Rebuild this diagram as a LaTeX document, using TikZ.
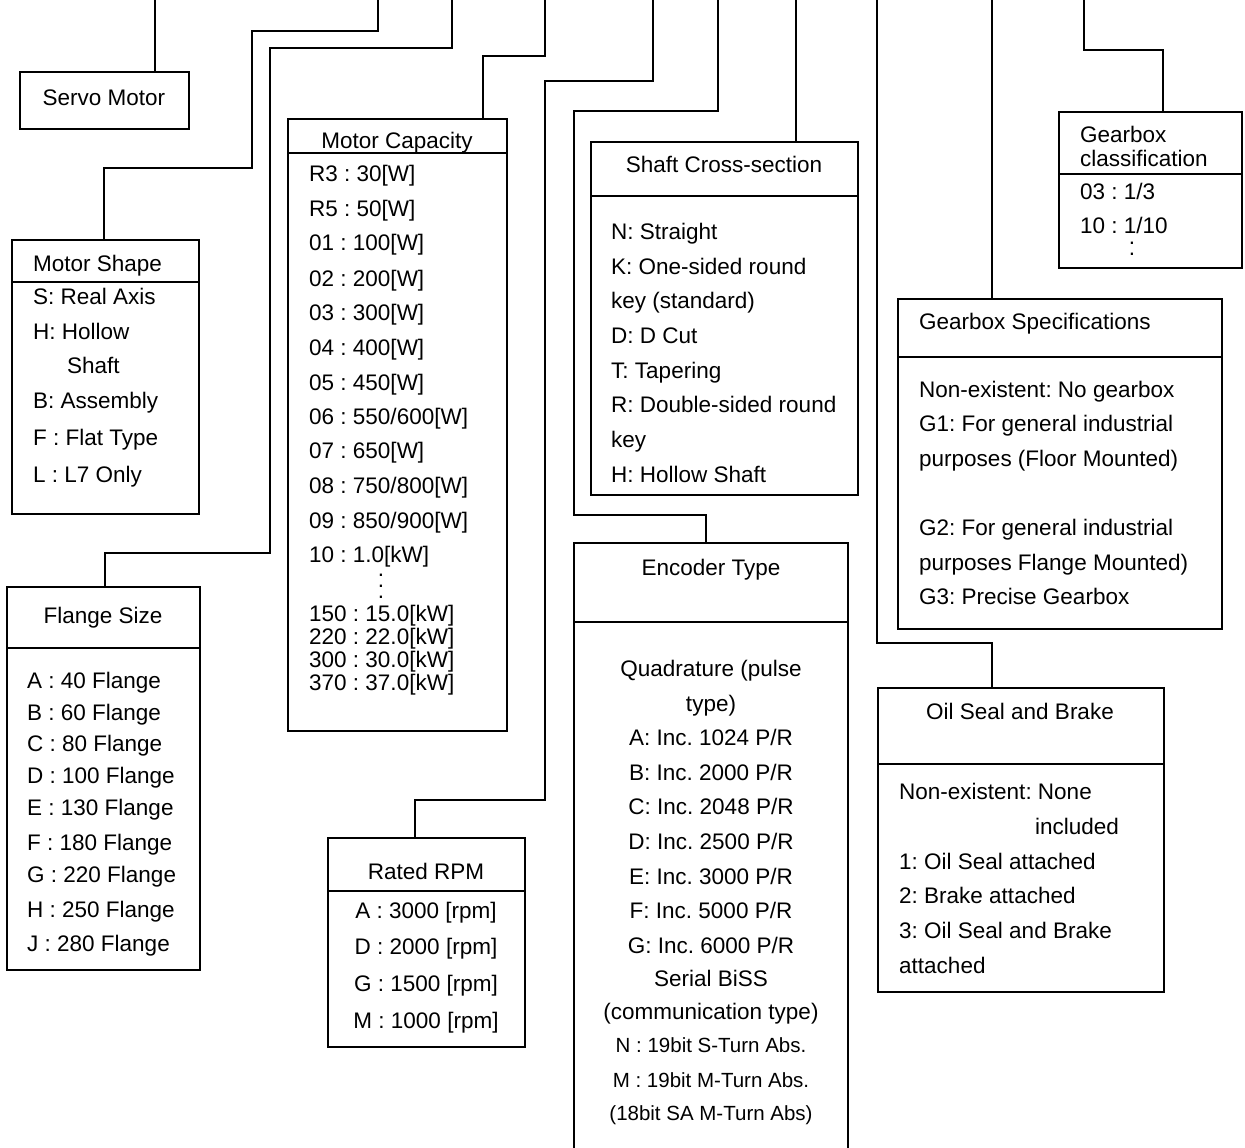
\documentclass[tikz,border=0pt]{standalone}
\usepackage{fontspec}
\setmainfont{Liberation Sans}
\frenchspacing
\begin{document}
\frenchspacing
\begin{tikzpicture}[x=1pt,y=-1pt,
  conn/.style={line width=2.2pt},
  box/.style={draw, line width=1.4pt, anchor=north west, inner sep=0pt, outer sep=0pt},
  openbox/.style={anchor=north west, inner sep=0pt, outer sep=0pt},
  divl/.style={line width=1.4pt},
  txt/.style={anchor=base west, inner sep=0pt, font=\fontsize{22.5}{27}\selectfont},
  ctxt/.style={anchor=base, inner sep=0pt, font=\fontsize{22.5}{27}\selectfont},
  dots/.style={anchor=south, inner sep=0pt, align=center, font=\fontsize{22.5}{11}\selectfont},
  stxt/.style={anchor=base, inner sep=0pt, font=\fontsize{20.5}{25}\selectfont}]
\useasboundingbox (0,0) rectangle (1245,1148);

% ---------- boxes ----------
\node[box, minimum width=169pt, minimum height=57pt] (servo) at (20,72) {};
\node[box, minimum width=187pt, minimum height=274pt] (shape) at (12,240) {};
\node[box, minimum width=193pt, minimum height=383pt] (flange) at (7,587) {};
\node[box, minimum width=219pt, minimum height=612pt] (cap) at (288,119) {};
\node[box, minimum width=197pt, minimum height=209pt] (rpm) at (328,838) {};
\node[box, minimum width=267pt, minimum height=353pt] (shaft) at (591,142) {};
\node[openbox, minimum width=274pt, minimum height=605pt] (enc) at (574,543) {};
\node[box, minimum width=183pt, minimum height=156pt] (gcls) at (1059,112) {};
\node[box, minimum width=324pt, minimum height=330pt] (gspec) at (898,299) {};
\node[box, minimum width=286pt, minimum height=304pt] (oil) at (878,688) {};

\draw[divl] (enc.south west) -- (enc.north west) -- (enc.north east) -- (enc.south east);

% ---------- dividers ----------
\draw[divl] ([yshift=-42pt]shape.north west) -- ([yshift=-42pt]shape.north east);
\draw[divl] ([yshift=-61pt]flange.north west) -- ([yshift=-61pt]flange.north east);
\draw[divl] ([yshift=-34pt]cap.north west) -- ([yshift=-34pt]cap.north east);
\draw[divl] ([yshift=-53pt]rpm.north west) -- ([yshift=-53pt]rpm.north east);
\draw[divl] ([yshift=-54pt]shaft.north west) -- ([yshift=-54pt]shaft.north east);
\draw[divl] ([yshift=-79pt]enc.north west) -- ([yshift=-79pt]enc.north east);
\draw[divl] ([yshift=-62pt]gcls.north west) -- ([yshift=-62pt]gcls.north east);
\draw[divl] ([yshift=-58pt]gspec.north west) -- ([yshift=-58pt]gspec.north east);
\draw[divl] ([yshift=-76pt]oil.north west) -- ([yshift=-76pt]oil.north east);

% ---------- connectors ----------
\coordinate (t1) at (155,0);
\coordinate (t2) at (378,0);
\coordinate (t3) at (452,0);
\coordinate (t4) at (545,0);
\coordinate (t5) at (653,0);
\coordinate (t6) at (718,0);
\coordinate (t7) at (796,0);
\coordinate (t8) at (877,0);
\coordinate (t9) at (992,0);
\coordinate (t10) at (1084,0);

\draw[conn] (t1) -- (t1 |- servo.north);
\draw[conn] (t2) |- (252,31) |- (104,168) -- (104,168 |- shape.north);
\draw[conn] (t3) |- (270,48) |- (105,553) -- (105,553 |- flange.north);
\draw[conn] (t4) |- (483,56) -- (483,56 |- cap.north);
\draw[conn] (t5) |- (545,81) |- (415,800) -- (415,800 |- rpm.north);
\draw[conn] (t6) |- (574,111) |- (706,515) -- (706,515 |- enc.north);
\draw[conn] (t7) -- (t7 |- shaft.north);
\draw[conn] (t8) |- (992,643) -- (992,643 |- oil.north);
\draw[conn] (t9) -- (t9 |- gspec.north);
\draw[conn] (t10) |- (1163,50) -- (1163,50 |- gcls.north);

% ---------- texts ----------
\node[ctxt] (servoT) at (104,105) {Servo Motor};

\node[txt] (shapeT) at (33,271) {Motor Shape};
\node[txt] (shape1) at (33,304) {S: Real Axis};
\node[txt] (shape2) at (33,339) {H: Hollow};
\node[txt] (shape3) at (67,373) {Shaft};
\node[txt] (shape4) at (33,408) {B: Assembly};
\node[txt] (shape5) at (33,445) {F : Flat Type};
\node[txt] (shape6) at (33,482) {L : L7 Only};

\node[ctxt] (flangeT) at (103,623) {Flange Size};
\node[txt] (fl1) at (27,688) {A : 40 Flange};
\node[txt] (fl2) at (27,720) {B : 60 Flange};
\node[txt] (fl3) at (27,751) {C : 80 Flange};
\node[txt] (fl4) at (27,783) {D : 100 Flange};
\node[txt] (fl5) at (27,815) {E : 130 Flange};
\node[txt] (fl6) at (27,850) {F : 180 Flange};
\node[txt] (fl7) at (27,882) {G : 220 Flange};
\node[txt] (fl8) at (27,917) {H : 250 Flange};
\node[txt] (fl9) at (27,951) {J : 280 Flange};

\node[ctxt] (capT) at (397,148) {Motor Capacity};
\node[txt] (cap1) at (309,181) {R3 : 30[W]};
\node[txt] (cap2) at (309,216) {R5 : 50[W]};
\node[txt] (cap3) at (309,250) {01 : 100[W]};
\node[txt] (cap4) at (309,286) {02 : 200[W]};
\node[txt] (cap5) at (309,320) {03 : 300[W]};
\node[txt] (cap6) at (309,355) {04 : 400[W]};
\node[txt] (cap7) at (309,390) {05 : 450[W]};
\node[txt] (cap8) at (309,424) {06 : 550/600[W]};
\node[txt] (cap9) at (309,458) {07 : 650[W]};
\node[txt] (cap10) at (309,493) {08 : 750/800[W]};
\node[txt] (cap11) at (309,528) {09 : 850/900[W]};
\node[txt] (cap12) at (309,562) {10 : 1.0[kW]};
\node[dots] (capdots) at (381,599) {.\\.\\.};
\node[txt] (cap13) at (309,621) {150 : 15.0[kW]};
\node[txt] (cap14) at (309,644) {220 : 22.0[kW]};
\node[txt] (cap15) at (309,667) {300 : 30.0[kW]};
\node[txt] (cap16) at (309,690) {370 : 37.0[kW]};

\node[ctxt] (rpmT) at (426,879) {Rated RPM};
\node[ctxt] (rpm1) at (426,918) {A : 3000 [rpm]};
\node[ctxt] (rpm2) at (426,954) {D : 2000 [rpm]};
\node[ctxt] (rpm3) at (426,991) {G : 1500 [rpm]};
\node[ctxt] (rpm4) at (426,1028) {M : 1000 [rpm]};

\node[ctxt] (shaftT) at (724,172) {Shaft Cross-section};
\node[txt] (sh1) at (611,239) {N: Straight};
\node[txt] (sh2) at (611,274) {K: One-sided round};
\node[txt] (sh3) at (611,308) {key (standard)};
\node[txt] (sh4) at (611,343) {D: D Cut};
\node[txt] (sh5) at (611,378) {T: Tapering};
\node[txt] (sh6) at (611,412) {R: Double-sided round};
\node[txt] (sh7) at (611,447) {key};
\node[txt] (sh8) at (611,482) {H: Hollow Shaft};

\node[ctxt] (encT) at (711,575) {Encoder Type};
\node[ctxt] (en1) at (711,676) {Quadrature (pulse};
\node[ctxt] (en2) at (711,711) {type)};
\node[ctxt] (en3) at (711,745) {A: Inc. 1024 P/R};
\node[ctxt] (en4) at (711,780) {B: Inc. 2000 P/R};
\node[ctxt] (en5) at (711,814) {C: Inc. 2048 P/R};
\node[ctxt] (en6) at (711,849) {D: Inc. 2500 P/R};
\node[ctxt] (en7) at (711,884) {E: Inc. 3000 P/R};
\node[ctxt] (en8) at (711,918) {F: Inc. 5000 P/R};
\node[ctxt] (en9) at (711,953) {G: Inc. 6000 P/R};
\node[ctxt] (en10) at (711,986) {Serial BiSS};
\node[ctxt] (en11) at (711,1019) {(communication type)};
\node[stxt] (en12) at (711,1052) {N : 19bit S-Turn Abs.};
\node[stxt] (en13) at (711,1087) {M : 19bit M-Turn Abs.};
\node[stxt] (en14) at (711,1120) {(18bit SA M-Turn Abs)};

\node[txt] (gclsT1) at (1080,142) {Gearbox};
\node[txt] (gclsT2) at (1080,166) {classification};
\node[txt] (gc1) at (1080,199) {03 : 1/3};
\node[txt] (gc2) at (1080,233) {10 : 1/10};
\node[dots] (gcdots) at (1132,256) {.\\.};

\node[txt] (gspecT) at (919,329) {Gearbox Specifications};
\node[txt] (gs1) at (919,397) {Non-existent: No gearbox};
\node[txt] (gs2) at (919,431) {G1: For general industrial};
\node[txt] (gs3) at (919,466) {purposes (Floor Mounted)};
\node[txt] (gs4) at (919,535) {G2: For general industrial};
\node[txt] (gs5) at (919,570) {purposes Flange Mounted)};
\node[txt] (gs6) at (919,604) {G3: Precise Gearbox};

\node[ctxt] (oilT) at (1020,719) {Oil Seal and Brake};
\node[txt] (oi1) at (899,799) {Non-existent: None};
\node[txt] (oi2) at (1035,834) {included};
\node[txt] (oi3) at (899,869) {1: Oil Seal attached};
\node[txt] (oi4) at (899,903) {2: Brake attached};
\node[txt] (oi5) at (899,938) {3: Oil Seal and Brake};
\node[txt] (oi6) at (899,973) {attached};
\end{tikzpicture}
\end{document}
